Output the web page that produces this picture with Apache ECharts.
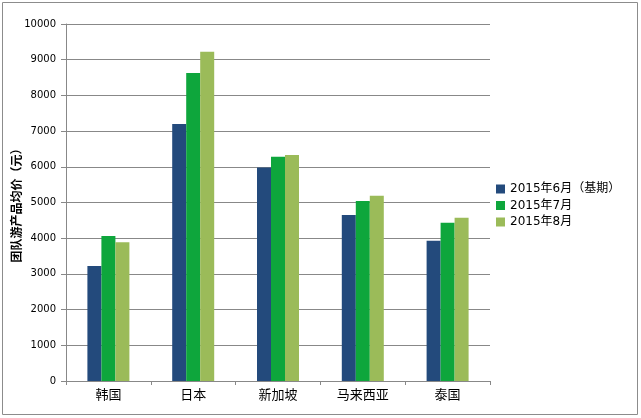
<!DOCTYPE html>
<html>
<head>
<meta charset="utf-8">
<script src="https://cdn.jsdelivr.net/npm/echarts@6/dist/echarts.min.js"></script>
<style>
html,body{margin:0;padding:0;background:#fff;}
#c{width:641px;height:418px;}
</style>
</head>
<body>
<div id="c"></div>
<script>
const categories = ['韩国', '日本', '新加坡', '马来西亚', '泰国'];
const seriesNames = ['2015年6月（基期）', '2015年7月', '2015年8月'];
const june = [3220, 7200, 5980, 4650, 3930];
const july = [4060, 8630, 6280, 5040, 4430];
const august = [3890, 9220, 6330, 5190, 4570];
const yTicks = [0, 1000, 2000, 3000, 4000, 5000, 6000, 7000, 8000, 9000, 10000];
const yName = '团队游产品均价（元）';

const colors = ['#234a7c', '#0ea63c', '#9bbb59'];
const cjk = '"DejaVu Sans", "Noto Sans CJK SC", sans-serif';

const chart = echarts.init(document.getElementById('c'));
chart.setOption({
  animation: false,
  color: colors,
  graphic: [{
    type: 'rect',
    shape: { x: 2.5, y: 2.5, width: 635, height: 412 },
    style: { fill: 'none', stroke: '#8c8c8c', lineWidth: 1 },
    silent: true
  }],
  grid: { left: 66, right: 151, top: 24, bottom: 37, containLabel: false, outerBoundsMode: 'none' },
  legend: {
    orient: 'vertical',
    left: 491,
    top: 178,
    itemWidth: 9,
    itemHeight: 9,
    itemGap: 4.5,
    icon: 'rect',
    textStyle: { fontSize: 12, color: '#000', fontFamily: cjk, lineHeight: 12 },
    data: seriesNames
  },
  xAxis: {
    type: 'category',
    data: categories,
    axisLine: { lineStyle: { color: '#888', width: 1 } },
    axisTick: { show: true, length: 4, lineStyle: { color: '#888' } },
    axisLabel: { fontSize: 13, color: '#000', margin: 7, fontFamily: '"Noto Sans CJK SC", sans-serif' }
  },
  yAxis: {
    type: 'value',
    min: yTicks[0],
    max: yTicks[yTicks.length - 1],
    interval: 1000,
    name: yName,
    nameLocation: 'middle',
    nameRotate: 90,
    nameGap: 44,
    nameMoveOverlap: false,
    nameTextStyle: { fontSize: 12, fontWeight: 'bold', color: '#000', fontFamily: '"Noto Sans CJK SC", sans-serif' },
    axisLine: { show: true, lineStyle: { color: '#888', width: 1 } },
    axisTick: { show: true, length: 5, inside: false, lineStyle: { color: '#888' } },
    axisLabel: { fontSize: 10, color: '#000', margin: 10, fontFamily: '"DejaVu Sans", sans-serif', formatter: function (v) { return String(v); } },
    splitLine: { show: true, lineStyle: { color: '#888', width: 1 } }
  },
  series: [
    { name: seriesNames[0], type: 'bar', data: june, barWidth: 14, barGap: '0%' },
    { name: seriesNames[1], type: 'bar', data: july, barWidth: 14, barGap: '0%' },
    { name: seriesNames[2], type: 'bar', data: august, barWidth: 14, barGap: '0%' }
  ]
});
</script>
</body>
</html>
